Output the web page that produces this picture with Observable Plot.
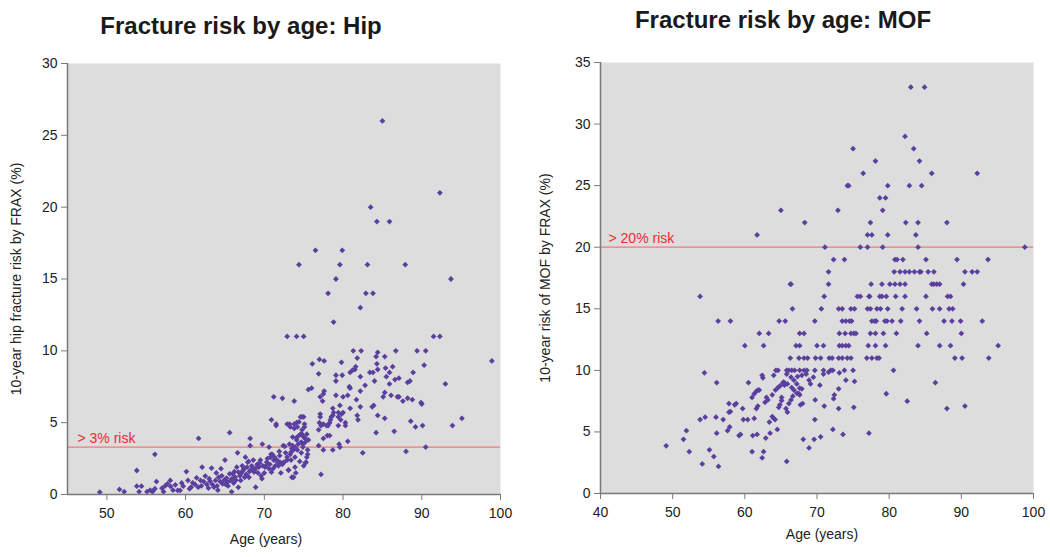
<!DOCTYPE html>
<html><head><meta charset="utf-8">
<script src="https://cdn.jsdelivr.net/npm/d3@7"></script>
<script src="https://cdn.jsdelivr.net/npm/@observablehq/plot@0.6"></script>
<style>
body{margin:0;background:#fff;font-family:"Liberation Sans",Arial,sans-serif;}
#wrap{position:relative;width:1050px;height:557px;display:flex;}
.panel{position:relative;width:525px;height:557px;}
.title{height:50px;position:relative;}
.title span{position:absolute;transform:translateX(-50%);white-space:nowrap;font-weight:bold;font-size:24px;line-height:24px;color:#1a1a1a;}
</style></head>
<body>
<div id="wrap">
  <div class="panel" id="hip"><div class="title"><span style="left:241px;top:14px">Fracture risk by age: Hip</span></div></div>
  <div class="panel" id="mof"><div class="title"><span style="left:258px;top:8px">Fracture risk by age: MOF</span></div></div>
</div>
<script>
// ---- Data: [age (years), 10-year risk (%)] ----
const hipPoints = [
[85.0,26],[92.3,21],[83.5,20],[84.3,19],[85.9,19],[76.5,17],[79.9,17],[74.4,16],[79.6,16],[83.1,16],[87.9,16],[79.1,15],[93.7,15],[78.1,14],[82.9,14],[83.8,14],[82.2,13],[78.8,12],
[72.9,11],[74.1,11],[75.0,11],[91.5,11],[92.3,11],
[81.3,10],[82.3,10],[86.7,10],[89.4,10],[90.5,10],[84.4,9.9],[81.8,9.5],[76.1,9.1],[77.0,9.4],[77.6,9.3],[79.8,9.2],[84.2,9.6],[85.3,9.6],[90.3,9.0],[98.9,9.3],
[84.3,9.1],[84.4,8.7],[83.8,8.5],[83.4,8.5],[81.6,8.9],[81.5,8.7],[81.2,8.65],[80.9,8.5],[79.9,8.3],
[85.4,8.8],[86.3,8.9],[85.9,8.5],[85.5,8.2],[88.9,8.5],[76.9,8.4],[79.1,8.3],[79.1,7.9],[82.2,8.2],
[86.6,8.0],[87.1,8.1],[85.9,7.7],[88.2,7.8],[88.5,7.9],[93.0,7.7],[82.8,7.6],[84.0,7.9],[80.8,7.5],[80.9,7.4],[75.6,7.3],[76.0,7.4],[82.2,7.2],[77.6,7.2],[77.5,7.0],[77.1,6.8],[79.1,6.9],[80.6,6.9],[80.0,6.8],[85.3,7.1],[85.1,6.8],
[86.1,6.9],[86.9,6.8],[87.1,6.8],[87.6,6.5],[88.2,6.7],[88.8,6.6],[89.9,6.4],[90.0,6.3],
[71.2,6.8],[72.3,6.7],[73.8,6.5],[77.4,6.5],[81.7,6.6],[83.9,6.2],[83.7,6.1],[82.2,6.1],[80.9,6.0],[79.6,6.2],
[78.7,6.0],[78.8,5.7],[78.7,5.5],[78.5,5.4],[78.4,5.2],[78.3,5.0],[78.1,4.8],
[77.1,5.6],[77.1,5.4],[77.0,5.0],[77.2,4.8],[77.5,4.9],[77.9,4.8],
[79.4,5.7],[80.0,5.7],[79.8,5.6],[79.4,5.4],[79.7,5.2],[79.4,4.8],[80.3,5.0],[80.3,4.8],
[81.8,5.5],[81.9,5.2],[84.4,5.5],[85.3,5.3],[84.2,4.3],[86.5,4.4],[88.6,5.1],[89.2,4.7],[90.1,4.8],[93.9,4.8],[95.1,5.3],
[80.6,3.7],[76.9,4.5],[77.5,3.9],[78.0,4.1],[78.3,4.1],[79.5,3.5],[79.6,3.3],[77.5,3.1],[78.7,3.1],[76.9,3.4],[82.5,2.9],[88.0,3.0],[90.5,3.3],[77.2,1.4],
[71.5,4.8],[72.9,4.9],[73.3,4.7],[73.8,4.6],[73.8,4.9],[74.1,5.0],[74.6,5.4],[75.0,5.4],[75.1,4.9],[74.8,4.5],
[74.4,4.1],[74.8,4.2],[75.0,4.0],[75.2,3.9],[75.2,3.65],[74.7,3.65],[74.9,3.5],[73.6,4.0],[74.1,3.8],
[72.4,3.4],[73.2,3.5],[73.5,3.2],[73.9,3.3],[74.2,3.1],[74.7,2.9],[73.4,2.95],
[71.0,2.8],[70.8,2.6],[71.6,2.4],[72.0,2.25],[72.9,2.4],[71.8,2.0],[72.4,2.2],[73.1,1.7],[73.9,1.9],[75.0,2.0],[75.2,2.2],[72.1,1.5],[73.7,1.2],[70.9,1.55],[71.1,1.8],
[49.1,0.16],[51.6,0.35],[52.2,0.2],[53.8,1.67],[53.8,0.58],[54.4,0.58],[54.1,0.2],[55.1,0.2],[55.8,0.2],[56.1,0.4],[56.3,0.9],[56.1,2.8],
[57.0,0.44],[57.7,0.74],[58.05,0.98],[58.1,0.56],[58.7,0.67],[59.0,0.28],[59.3,0.28],[59.7,0.58],[60.1,1.6],[60.3,0.98],[60.7,0.51],[60.9,0.81],[61.4,1.16],[61.6,0.51],[61.9,0.98],[62.1,1.9],[62.5,1.28],[62.7,0.7],[63.1,0.93],[63.3,1.84],[63.6,0.51],[63.8,0.98],[64.2,1.2],[64.5,1.8],[64.7,0.74],[65.0,2.4],[65.2,1.14],[65.3,0.86],[65.6,1.44],[65.7,0.98],[65.85,0.19],[66.0,1.44],[66.3,1.2],[66.5,1.9],[66.6,2.9],[66.7,1.56],[67.0,0.98],[67.2,2.0],[67.3,1.67],[67.5,1.2],[67.6,2.6],[67.8,1.9],[67.9,2.25],[68.05,1.2],[68.2,3.9],[68.3,1.72],[68.4,2.0],[68.6,2.4],[68.7,1.56],[68.9,0.51],[69.1,2.1],[69.3,1.9],[69.5,2.4],[69.7,1.1],[69.75,3.5],[70.0,1.5],[70.2,2.0],[70.3,2.25],[70.6,1.8],[70.6,3.3],[70.85,2.8],[70.9,5.2],[71.2,2.4],[71.4,2.0],[71.5,4.9],[71.7,2.25],[71.95,2.7],[72.3,2.1],[72.5,2.25],[72.6,3.35],[72.9,2.6],[73.05,1.7],[73.2,4.9],[73.4,2.4],[73.5,1.2],[73.6,3.4],[73.7,3.1],[73.9,2.6],[74.1,3.95],[74.2,4.7],[74.4,5.05],[74.6,4.2],[74.8,5.4],[74.9,3.3],[75.1,4.7],[75.3,2.25],[75.4,4.2],[75.5,2.8],[75.6,3.8],
[61.65,3.9],[65.6,4.3],[68.2,3.4],
[62.0,0.6],[62.9,0.45],[63.4,0.7],[64.0,0.6],[64.4,0.9],[64.9,1.0],[65.4,0.6],[66.1,0.8],[66.4,1.0],[66.9,1.3],[67.1,1.5],[67.7,1.4],[68.1,1.6],[68.5,1.8],[68.8,1.7],[69.0,1.9],[69.4,2.2],[69.8,2.0],[70.4,2.5],[70.1,1.9],[69.2,1.5],[68.0,2.3],[67.4,1.8],[66.2,1.6],[65.9,1.1],[65.1,0.7],[64.6,1.3],[63.9,1.5],[63.0,1.1],[62.3,0.9],[61.2,0.7],[60.5,0.4],[59.5,0.8],[58.4,0.3],[57.4,0.6],[57.2,0.2],[55.5,0.3],[64.1,0.3],[66.7,0.5],[69.6,1.3],[70.7,2.1],[71.3,2.6],[72.7,2.9],[71.9,3.0],[73.3,2.8],[74.5,2.3],[74.0,1.5],[75.4,2.6],[74.3,3.5],[75.5,3.1]
];

const mofPoints = [
[49.1,3.87],[51.9,5.1],[51.5,4.4],[52.3,3.4],[54.1,2.4],[53.8,6.0],[54.5,6.2],[54.4,9.8],[53.8,16],[55.1,3.55],[55.7,3.0],[56.35,2.2],[56.1,4.9],[56.0,6.2],[56.1,9.0],[56.3,14],[58.0,14],[57.0,6.0],[57.6,5.1],[57.9,5.4],[57.8,6.6],[57.8,7.3],[58.0,6.65],[58.6,7.2],[58.8,7.3],[59.2,4.7],[59.4,4.8],[59.7,6.9],[59.8,6.0],[60.0,12],[60.4,6.0],[60.5,9.0],[61.0,3.4],[61.0,7.8],[61.1,4.7],[61.3,6.1],[61.3,8.1],[61.6,8.3],[61.8,8.4],[62.0,8.4],[61.6,6.9],[61.8,7.1],[61.7,4.8],[62.0,13],[62.4,9.6],[62.5,9.4],[62.6,12],[62.6,3.4],[62.4,2.9],[62.8,7.4],[63.0,7.8],[63.2,7.6],[62.9,4.5],[63.3,13],[63.4,5.8],[63.5,4.9],[63.8,6.25],[64.0,6.1],[64.2,6.0],[63.8,8.0],[64.0,9.6],[64.3,10],[64.6,10],[64.25,8.4],[64.5,5.2],[64.6,8.6],[64.9,8.75],[64.7,7.0],[64.85,7.2],[64.75,14],[65.6,14],[65.3,9.0],[65.5,8.8],[65.9,8.9],[65.4,9.05],[65.7,6.9],[65.9,6.6],[66.1,7.3],[65.1,7.8],[65.1,7.55],[65.8,2.6],
[65.8,10],[66.1,10],[66.5,10],[66.9,10],[67.6,10],[68.2,10],[68.6,10],
[65.8,9.7],[66.4,9.45],[66.8,9.2],[67.3,9.5],[67.9,9.6],[68.5,9.7],
[66.3,11],[67.5,11],[68.2,11],[68.7,11],[69.8,11],[70.5,11],
[66.3,17],[66.6,15],[67.1,12],[67.6,12],[70.0,12],[67.6,13],[68.2,13],[69.7,14],
[66.5,8.6],[66.8,8.4],[67.2,8.9],[67.5,8.1],[67.6,8.55],[67.9,8.5],[66.4,7.6],[66.65,7.9],[67.2,8.15],[67.6,8.0],[67.7,7.2],[68.0,7.3],
[68.1,4.4],[68.9,3.7],[69.6,4.4],[68.9,9.2],[69.1,8.9],[69.5,9.45],[69.7,6.0],[69.75,7.6],[70.4,8.8],[70.5,4.6],
[65.0,23],[68.3,22],[61.7,21],
[83.0,33],[84.9,33],[82.2,29],[75.0,28],[83.4,28],[78.1,27],[84.2,27],[76.4,26],[85.9,26],[92.2,26],[74.2,25],[74.4,25],[79.8,25],[82.8,25],[84.5,25],[78.7,24],[79.5,24],[72.9,23],[79.1,23],[77.4,22],[82.3,22],[84.0,22],[88.0,22],[77.0,21],[77.6,21],[79.8,21],[83.7,21],
[71.1,20],[76.0,20],[77.0,20],[79.1,20],[84.0,20],[98.8,20],
[72.3,19],[73.8,19],[80.8,19],[81.1,19],[81.9,19],[85.1,19],[89.4,19],[93.7,19],
[71.6,18],[80.7,18],[81.5,18],[82.2,18],[82.8,18],[83.5,18],[84.2,18],[84.4,18],[85.4,18],[86.2,18],[90.5,18],[91.5,18],[92.2,18],
[66.4,17],[71.6,17],[77.5,17],[79.0,17],[80.1,17],[80.8,17],[81.5,17],[82.2,17],[85.9,17],[86.2,17],[86.6,17],[87.0,17],[90.3,17],
[71.0,16],[75.6,16],[76.0,16],[77.2,16],[77.3,16],[78.7,16],[79.0,16],[79.6,16],[80.9,16],[82.2,16],[85.1,16],[88.1,16],[88.5,16],
[70.6,15],[73.0,15],[73.5,15],[74.7,15],[75.2,15],[77.0,15],[77.4,15],[78.3,15],[78.8,15],[79.8,15],[81.8,15],[83.8,15],[86.0,15],[87.0,15],[88.3,15],[88.8,15],
[73.5,14],[74.0,14],[74.5,14],[74.8,14],[77.6,14],[78.0,14],[78.2,14],[79.4,14],[79.7,14],[80.4,14],[81.6,14],[84.2,14],[87.6,14],[88.7,14],[89.9,14],[92.9,14],
[73.1,13],[73.9,13],[74.7,13],[75.1,13],[75.4,13],[77.4,13],[78.1,13],[79.2,13],[81.0,13],[85.2,13],[90.0,13],
[70.9,12],[73.1,12],[73.5,12],[74.0,12],[74.4,12],[77.1,12],[78.1,12],[79.5,12],[84.0,12],[87.0,12],[88.5,12],[95.1,12],
[71.7,11],[72.1,11],[73.0,11],[73.5,11],[74.2,11],[74.7,11],[76.9,11],[77.6,11],[78.3,11],[78.6,11],[89.1,11],[90.1,11],[93.8,11],
[69.7,10],[70.9,10],[71.9,10],[72.2,10],[73.8,10],[75.0,10],[80.6,10],
[70.9,9.7],[71.6,9.85],[73.1,9.8],[74.0,9.2],[75.2,9.1],[86.4,9.0],[73.0,8.5],[72.4,8.0],[72.3,7.7],[79.6,8.1],[82.5,7.5],[71.0,7.1],[73.0,6.9],[75.1,7.0],[88.0,6.9],[90.5,7.1],[72.2,5.2],[73.6,4.8],[77.2,4.9]
];

const hipXTicks = [50, 60, 70, 80, 90, 100];
const hipYTicks = [0, 5, 10, 15, 20, 25, 30];
const mofXTicks = [40, 50, 60, 70, 80, 90, 100];
const mofYTicks = [0, 5, 10, 15, 20, 25, 30, 35];
const hipThreshold = [{value: 3.3, label: "> 3% risk"}];
const mofThreshold = [{value: 20, label: "> 20% risk"}];
const xLabel = ["Age (years)"];

const FONT = "'Liberation Sans', Arial, Helvetica, sans-serif";
const DOT = "#5a3f9e";
const AXIS = "#7a7a7a";

function panel({points, xDomain, yDomain, xTicks, yTicks, threshold, yLabel, m, labelOffset, xLabelDx, xLabelDy, thrDx}) {
  return Plot.plot({
    width: 525,
    height: 507,
    marginTop: m[0], marginRight: m[1], marginBottom: m[2], marginLeft: m[3],
    style: {fontFamily: FONT, fontSize: "14px", color: "#222", background: "transparent", overflow: "visible"},
    x: {domain: xDomain},
    y: {domain: yDomain},
    marks: [
      Plot.frame({fill: "#dcdddc", stroke: null}),
      Plot.ruleY(threshold, {y: "value", stroke: "#f07a7a", strokeWidth: 1.2}),
      Plot.text(threshold, {y: "value", text: "label", frameAnchor: "left", textAnchor: "start", dx: thrDx, dy: -9, fill: "#ee2a2f", fontSize: 14}),
      Plot.dot(points, {x: d => d[0], y: d => d[1], symbol: "diamond2", r: 2.6, fill: DOT, stroke: "none"}),
      Plot.ruleX([xDomain[0]], {stroke: AXIS, strokeWidth: 1.5}),
      Plot.ruleY([0], {stroke: AXIS, strokeWidth: 1.5}),
      Plot.axisX({ticks: xTicks, tickSize: 6, tickPadding: 8, stroke: AXIS, fill: "#222", fontSize: 14, label: null}),
      Plot.axisY({ticks: yTicks, tickSize: 6, tickPadding: 4, stroke: AXIS, fill: "#222", fontSize: 14,
        label: yLabel, labelAnchor: "center", labelArrow: "none", labelOffset: labelOffset}),
      Plot.text(xLabel, {text: d => d, frameAnchor: "bottom", dx: xLabelDx, dy: xLabelDy, fill: "#222", fontSize: 14})
    ]
  });
}

document.getElementById("hip").appendChild(panel({
  points: hipPoints, xDomain: [45, 100], yDomain: [0, 30], xTicks: hipXTicks, yTicks: hipYTicks,
  threshold: hipThreshold, yLabel: "10-year hip fracture risk by FRAX (%)",
  m: [13, 25, 63, 67], labelOffset: 56, xLabelDx: -18, xLabelDy: 49, thrDx: 10
}));
document.getElementById("mof").appendChild(panel({
  points: mofPoints, xDomain: [40, 100], yDomain: [0, 35], xTicks: mofXTicks, yTicks: mofYTicks,
  threshold: mofThreshold, yLabel: "10-year risk of MOF by FRAX (%)",
  m: [12, 17, 64, 75], labelOffset: 60, xLabelDx: 5, xLabelDy: 45, thrDx: 8
}));
</script>
</body></html>
